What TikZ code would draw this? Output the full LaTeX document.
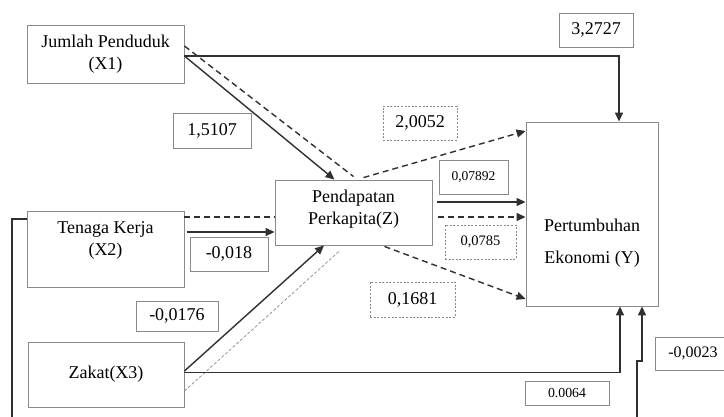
\documentclass[tikz,border=0pt]{standalone}
\usepackage{fontspec}
\setmainfont{Liberation Serif}
\usetikzlibrary{arrows.meta}
\definecolor{boxgray}{HTML}{8A8A8A}
\definecolor{linec}{HTML}{303030}
\begin{document}
\begin{tikzpicture}[x=1pt,y=-1pt,
  box/.style={draw=boxgray, line width=0.9pt, inner sep=0pt, align=center, font=\fontsize{18}{22}\selectfont},
  txt/.style={inner sep=0pt, align=center, font=\fontsize{18}{22}\selectfont},
  lbl/.style={draw=boxgray, line width=0.8pt, inner sep=0pt, font=\fontsize{18}{20}\selectfont},
  lbld/.style={lbl, dash pattern=on 2pt off 1.6pt},
  conn/.style={draw=linec, line width=1.4pt},
  arr/.style={conn, -{Triangle[length=9pt,width=8pt]}},
  dsh/.style={conn, dash pattern=on 6pt off 4pt},
  thin dsh/.style={draw=boxgray, line width=0.7pt, dash pattern=on 3pt off 2pt}]
\useasboundingbox (0,0) rectangle (724,416);
\fill[white] (0,0) rectangle (724,416);

% main boxes
\node[box, minimum width=157pt, minimum height=58pt] (x1) at (105.5,54) {Jumlah Penduduk\\(X1)};
\node[box, minimum width=157pt, minimum height=76pt] (x2) at (105.5,249) {};
\node[txt] (x2t) at (105.5,240) {Tenaga Kerja\\(X2)};
\node[box, minimum width=156pt, minimum height=65pt] (x3) at (106,374.5) {Zakat(X3)};
\node[box, minimum width=157pt, minimum height=65pt] (z) at (353.5,212.5) {};
\node[txt] (zt) at (353.5,209) {Pendapatan\\Perkapita(Z)};
\node[box, minimum width=132pt, minimum height=184pt] (y) at (592,214) {};
\node[txt] (yt1) at (592,225) {Pertumbuhan};
\node[txt] (yt2) at (592,259) {Ekonomi (Y)};

% labels
\node[lbl, minimum width=74pt, minimum height=34pt] (l1) at (596,30) {3,2727};
\node[lbl, minimum width=78pt, minimum height=35pt] (l2) at (212,130.5) {1,5107};
\node[lbld, minimum width=74pt, minimum height=34pt] (l3) at (420,123) {2,0052};
\node[lbl, minimum width=69pt, minimum height=34pt, font=\fontsize{13.5}{15}\selectfont] (l4) at (473.5,177) {0,07892};
\node[lbld, minimum width=71pt, minimum height=34pt, font=\fontsize{14.5}{16}\selectfont] (l5) at (480.5,242) {0,0785};
\node[lbld, minimum width=85pt, minimum height=35pt] (l6) at (412.5,299.5) {0,1681};
\node[lbl, minimum width=78pt, minimum height=34pt] (l7) at (229,254) {-0,018};
\node[lbl, minimum width=82pt, minimum height=30pt] (l8) at (177,316) {-0,0176};
\node[lbl, minimum width=76pt, minimum height=33pt, font=\fontsize{16}{18}\selectfont] (l9) at (693,353.5) {-0,0023};
\node[lbl, minimum width=84pt, minimum height=24pt, font=\fontsize{13.8}{15}\selectfont] (l10) at (567,393) {0.0064};

% connectors
\draw[arr] ([yshift=-2pt]x1.east) -| ([xshift=27pt]y.north);
\draw[arr] ([yshift=-2pt]x1.east) -- ([xshift=-19pt]z.north);
\draw[dsh] ([yshift=8pt]x1.east) -- ([yshift=3pt]z.north);
\draw[dsh, -{Triangle[length=9pt,width=8pt]}] ([xshift=10pt,yshift=2pt]z.north) -- ([yshift=83pt]y.west);
\draw[arr] ([xshift=3pt,yshift=17pt]x2.east) -- ([yshift=-19.5pt]z.west);
\draw[dsh] ([yshift=32pt]x2.east) -- ([yshift=-4.5pt]z.west);
\draw[dsh, -{Triangle[length=9pt,width=8pt]}] ([xshift=6pt,yshift=-4.5pt]z.east) -- ([yshift=-3pt]y.west);
\draw[arr] ([xshift=5pt,yshift=10.5pt]z.east) -- ([yshift=12pt]y.west);
\draw[arr] ([yshift=3.5pt]x3.east) -- ([xshift=-29.5pt]z.south);
\draw[thin dsh] ([yshift=-16.5pt]x3.east) -- ([xshift=-13.5pt,yshift=-5pt]z.south);
\draw[dsh, -{Triangle[length=9pt,width=8pt]}] ([xshift=31pt,yshift=-1pt]z.south) -- ([yshift=-85pt]y.west);
\draw[arr] ([yshift=2pt]x3.east) -| ([xshift=28pt]y.south);
\coordinate (lt) at (12,219);
\coordinate (lb) at (12,417.5);
\coordinate (rb) at (637,417.5);
\coordinate (rj) at (637,361);
\draw[arr] ([yshift=30pt]x2.west) -- (lt) -- (lb) -- (rb) -- (rj) -| ([xshift=50pt]y.south);
\end{tikzpicture}
\end{document}
